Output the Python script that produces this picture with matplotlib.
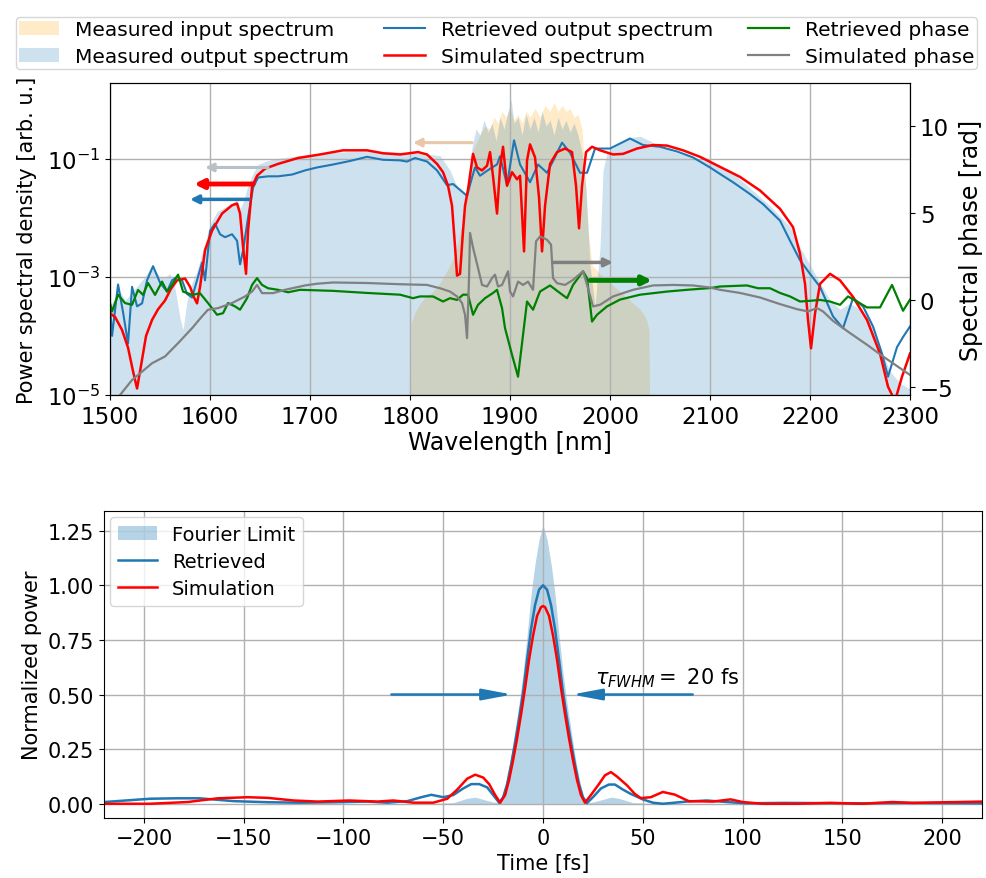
import numpy as np
import matplotlib
matplotlib.use("Agg")
import matplotlib.pyplot as plt
from matplotlib.patches import Patch
from matplotlib.lines import Line2D

# ---- spectrum data (wavelength in nm, PSD given as log10 values) ----
inp_wl = [1800, 1801, 1805, 1810, 1815, 1823, 1830, 1837, 1843, 1847, 1852, 1857, 1860, 1863,
          1867, 1870, 1875, 1880, 1884, 1888, 1892, 1896, 1900, 1904, 1908, 1912, 1916, 1920,
          1925, 1930, 1935, 1940, 1944, 1948, 1952, 1956, 1960, 1964, 1968, 1972, 1975, 1978,
          1982, 1990, 2000, 2010, 2020, 2030, 2036, 2039, 2040]
inp_log = [-6, -3.8, -3.6, -3.45, -3.35, -3.25, -3.1, -2.9, -2.7, -2.5, -2.1, -1.6, -1.2, -0.85,
           -0.7, -0.6, -0.45, -0.5, -0.3, -0.4, -0.2, -0.3, -0.15, -0.35, -0.25, -0.4, -0.2, -0.3,
           -0.15, -0.3, -0.1, -0.2, -0.05, -0.2, -0.1, -0.2, -0.15, -0.3, -0.25, -0.5, -1.3, -2.2,
           -2.8, -2.95, -3.1, -3.25, -3.4, -3.55, -3.7, -3.9, -6]

out_wl = [1500, 1505, 1510, 1515, 1520, 1525, 1530, 1535, 1540, 1545, 1550, 1555, 1560, 1565,
          1570, 1573, 1577, 1582, 1587, 1592, 1597, 1602, 1607, 1612, 1617, 1622, 1627, 1630,
          1633, 1638, 1643, 1648, 1655, 1665, 1680, 1700, 1720, 1740, 1760, 1780, 1800, 1815,
          1830, 1840, 1845, 1850, 1855, 1858, 1862, 1866, 1870, 1874, 1878, 1882, 1886, 1890,
          1894, 1898, 1901, 1904, 1908, 1912, 1916, 1920, 1924, 1928, 1932, 1936, 1940, 1944,
          1948, 1952, 1956, 1960, 1964, 1968, 1972, 1976, 1980, 1985, 1990, 1993, 1997, 2000,
          2010, 2020, 2030, 2040, 2050, 2070, 2100, 2120, 2140, 2160, 2180, 2190, 2200, 2210,
          2220, 2230, 2240, 2250, 2260, 2270, 2280, 2290, 2300]
out_log = [-3.5, -3.35, -3.25, -3.4, -3.3, -3.2, -3.1, -3.0, -2.85, -2.9, -3.0, -3.0, -2.95, -3.2,
           -3.7, -3.9, -3.4, -3.1, -2.9, -2.6, -2.3, -2.05, -1.9, -1.85, -1.8, -1.75, -1.7, -1.85,
           -1.75, -1.45, -1.25, -1.1, -1.05, -1.0, -0.97, -0.93, -0.9, -0.88, -0.87, -0.88, -0.9, -0.92,
           -0.95, -1.2, -1.4, -1.55, -1.6, -1.5, -0.8, -0.5, -0.6, -0.35, -0.55, -0.4, -0.7, -0.3,
           -0.5, -0.2, 0.0, -0.4, -0.3, -0.6, -0.25, -0.5, -0.3, -0.55, -0.2, -0.45, -0.35, -0.6,
           -0.3, -0.5, -0.35, -0.55, -0.4, -0.6, -0.9, -1.5, -2.8, -3.5, -2.5, -1.2, -0.9, -0.85,
           -0.75, -0.65, -0.62, -0.7, -0.8, -0.92, -1.05, -1.2, -1.5, -1.8, -2.15, -2.5, -2.8, -3.1,
           -3.4, -3.55, -3.45, -3.55, -3.75, -4.2, -4.6, -4.8, -4.9]

ret_wl = [1500, 1502, 1508, 1513, 1518, 1522, 1527, 1532, 1537, 1543, 1550, 1557, 1562, 1567,
          1572, 1577, 1582, 1587, 1592, 1595, 1600, 1605, 1610, 1615, 1622, 1627, 1630, 1633,
          1638, 1643, 1648, 1658, 1668, 1682, 1695, 1707, 1723, 1740, 1757, 1773, 1790, 1797,
          1805, 1817, 1827, 1837, 1843, 1850, 1857, 1862, 1865, 1870, 1875, 1882, 1887, 1890,
          1897, 1904, 1910, 1920, 1928, 1937, 1943, 1952, 1960, 1970, 1977, 1985, 2000, 2020,
          2033, 2050, 2067, 2083, 2100, 2110, 2123, 2140, 2153, 2170, 2180, 2190, 2200, 2210,
          2223, 2233, 2243, 2253, 2263, 2272, 2278, 2287, 2293, 2300]
ret_log = [-3.5, -4.0, -3.13, -3.6, -4.13, -3.17, -3.5, -3.45, -3.06, -2.82, -3.1, -3.25, -3.06, -3.0,
           -3.06, -3.29, -3.35, -3.06, -2.76, -3.06, -2.22, -2.1, -2.28, -2.33, -2.28, -2.39, -2.79, -2.56,
           -2.0, -1.49, -1.32, -1.3, -1.3, -1.27, -1.2, -1.15, -1.1, -1.04, -0.97, -1.02, -1.03, -1.05,
           -0.99, -1.05, -1.2, -1.45, -1.43, -1.53, -1.63, -1.32, -1.15, -1.29, -1.23, -1.15, -1.1, -0.96,
           -1.45, -0.69, -1.1, -1.4, -1.1, -1.24, -1.04, -0.73, -0.9, -1.24, -1.24, -0.83, -0.83, -0.66,
           -0.77, -0.8, -0.88, -0.98, -1.15, -1.26, -1.4, -1.6, -1.77, -2.05, -2.39, -2.72, -2.95, -3.17,
           -3.67, -3.87, -3.36, -3.5, -3.84, -4.3, -4.69, -4.19, -4.02, -3.84]

sim_wl = [1500, 1505, 1512, 1518, 1523, 1527, 1531, 1536, 1542, 1548, 1555, 1561, 1567, 1575,
          1580, 1584, 1587, 1590, 1595, 1602, 1612, 1622, 1627, 1630, 1633, 1636, 1638, 1642,
          1647, 1655, 1668, 1688, 1710, 1733, 1757, 1773, 1790, 1808, 1817, 1827, 1833, 1838,
          1842, 1845, 1847, 1850, 1853, 1855, 1858, 1863, 1867, 1872, 1877, 1880, 1883, 1887,
          1890, 1893, 1897, 1902, 1907, 1910, 1914, 1917, 1920, 1925, 1929, 1932, 1935, 1940,
          1947, 1955, 1962, 1966, 1969, 1972, 1976, 1982, 1990, 2003, 2013, 2027, 2043, 2057,
          2073, 2090, 2110, 2130, 2150, 2170, 2183, 2190, 2195, 2198, 2201, 2205, 2210, 2220,
          2230, 2243, 2257, 2270, 2278, 2285, 2292, 2300]
sim_log = [-3.62, -3.68, -3.9, -4.2, -4.6, -4.89, -4.5, -4.0, -3.73, -3.55, -3.4, -3.2, -3.06, -3.03,
           -3.17, -3.35, -3.45, -3.17, -2.55, -2.22, -1.93, -1.79, -1.76, -1.93, -2.49, -2.95, -2.22, -1.48,
           -1.29, -1.17, -1.09, -0.99, -0.93, -0.86, -0.86, -0.91, -0.93, -0.89, -0.93, -1.09, -1.23, -1.46,
           -1.8, -2.49, -2.98, -2.95, -2.22, -1.8, -1.52, -0.92, -1.15, -1.2, -1.12, -0.89, -1.3, -1.93,
           -1.15, -0.8, -1.46, -1.23, -1.35, -1.29, -2.57, -1.03, -0.76, -0.98, -1.66, -2.57, -1.8, -1.09,
           -0.89, -0.83, -0.89, -1.46, -2.18, -1.46, -0.89, -0.8, -0.86, -0.93, -0.92, -0.83, -0.77, -0.78,
           -0.86, -0.97, -1.14, -1.31, -1.54, -1.85, -2.16, -2.61, -3.12, -3.73, -4.21, -3.62, -3.12, -2.95,
           -3.06, -3.34, -3.73, -4.3, -4.86, -5.1, -4.69, -4.3]

# ---- spectral phase data (rad) ----
rph_wl = [1500, 1502, 1508, 1515, 1522, 1528, 1533, 1538, 1545, 1552, 1557, 1562, 1568, 1573,
          1582, 1590, 1598, 1607, 1613, 1618, 1625, 1630, 1637, 1642, 1647, 1652, 1658, 1668,
          1678, 1690, 1723, 1757, 1790, 1803, 1810, 1823, 1833, 1840, 1847, 1853, 1858, 1863,
          1868, 1875, 1883, 1887, 1892, 1895, 1902, 1908, 1913, 1917, 1923, 1930, 1940, 1948,
          1957, 1963, 1973, 1977, 1982, 1987, 1997, 2010, 2030, 2057, 2077, 2100, 2110, 2137,
          2148, 2160, 2170, 2180, 2190, 2200, 2210, 2220, 2230, 2238, 2247, 2257, 2270, 2282,
          2293, 2300]
rph_val = [-0.18, -0.66, 0.3, -0.18, -0.28, 0.57, 0.29, 0.97, 0.29, 1.05, 0.48, 0.86, 1.45, 0.48,
           0.29, 0.38, -0.18, -0.85, -0.76, -0.18, -0.37, -0.56, 0.1, 0.86, 1.25, 0.86, 0.67, 0.58,
           0.44, 0.58, 0.52, 0.4, 0.3, 0.1, 0.2, 0.2, -0.09, 0.1, 0.0, 0.3, 0.3, -0.85, -0.28,
           0.1, 0.4, 0.58, -0.47, -1.62, -3.15, -4.4, -2.0, -0.09, -0.56, 0.48, 0.83, 0.48,
           0.1, 0.86, 1.64, 1.25, -1.24, -0.85, -0.37, 0.02, 0.3, 0.48, 0.58, 0.68, 0.77, 0.83,
           0.67, 0.67, 0.4, 0.2, -0.09, -0.05, 0.0, -0.09, -0.28, 0.2, -0.09, -0.43, -0.43, 0.86,
           -0.62, 0.02]

sph_wl = [1510, 1522, 1532, 1542, 1555, 1568, 1582, 1592, 1598, 1608, 1622, 1635, 1642, 1647,
          1652, 1663, 1675, 1695, 1707, 1723, 1757, 1790, 1817, 1830, 1840, 1847, 1852, 1855,
          1857, 1859, 1860, 1863, 1868, 1872, 1877, 1882, 1885, 1888, 1892, 1895, 1898, 1900,
          1903, 1908, 1913, 1918, 1923, 1926, 1930, 1937, 1941, 1943, 1947, 1955, 1963, 1973,
          1978, 1983, 1990, 2003, 2023, 2043, 2063, 2083, 2100, 2110, 2130, 2150, 2170, 2187,
          2198, 2207, 2213, 2223, 2240, 2257, 2273, 2290, 2300]
sph_val = [-5.45, -4.59, -4.11, -3.63, -3.24, -2.48, -1.62, -0.94, -0.56, -0.47, -0.18, 0.2, 0.48, 0.86,
           0.39, 0.39, 0.58, 0.83, 0.93, 1.0, 0.97, 0.9, 0.86, 0.67, 0.48, 0.2, -0.18, -0.85,
           -2.19, 1.25, 3.84, 3.0, 1.83, 0.86, 0.77, 1.25, 1.45, 0.77, 0.86, 1.25, 1.64, 0.48,
           0.2, 1.05, 0.86, 1.05, 0.58, 3.36, 3.64, 3.45, 3.17, 1.25, 0.96, 0.86, 1.15, 1.64,
           0.67, -0.37, -0.28, 0.2, 0.58, 0.83, 0.86, 0.83, 0.71, 0.58, 0.4, 0.14, -0.24, -0.53,
           -0.66, -0.47, -0.66, -1.2, -1.9, -2.57, -3.24, -3.91, -4.3]

# ---- temporal data (fs, normalized power) ----
fl_t = [-220, -60, -45, -38, -34, -30, -25, -22, -20, -18, -16, -14, -12, -10, -8, -6, -4, -2, 0,
        2, 4, 6, 8, 10, 12, 14, 16, 18, 20, 22, 25, 30, 34, 38, 45, 60, 220]
fl_p = [0.0, 0.0, 0.005, 0.025, 0.03, 0.02, 0.008, 0.005, 0.04, 0.12, 0.22, 0.34, 0.46, 0.6, 0.77,
        0.96, 1.1, 1.21, 1.275, 1.21, 1.1, 0.96, 0.77, 0.6, 0.46, 0.34, 0.22, 0.12, 0.04, 0.005,
        0.008, 0.02, 0.03, 0.025, 0.005, 0.0, 0.0]

ret_t = [-220, -209, -197, -184, -172, -163, -155, -138, -122, -105, -88, -78, -68, -61, -56, -50,
         -45, -40, -36, -32, -28, -25, -22, -20, -18, -16, -14, -12, -10, -8, -6, -4, -2, 0,
         2, 4, 6, 8, 10, 12, 14, 16, 18, 20, 22, 25, 29, 33, 36, 40, 44, 50, 55, 60, 66, 72,
         82, 92, 102, 120, 140, 160, 180, 200, 220]
ret_p = [0.008, 0.015, 0.023, 0.025, 0.025, 0.018, 0.012, 0.007, 0.005, 0.007, 0.01, 0.005, 0.012,
         0.03, 0.041, 0.03, 0.04, 0.07, 0.09, 0.09, 0.075, 0.04, 0.005, 0.03, 0.09, 0.18, 0.28, 0.39,
         0.51, 0.66, 0.80, 0.91, 0.98, 1.0, 0.98, 0.91, 0.80, 0.66, 0.51, 0.39, 0.28, 0.18, 0.09,
         0.03, 0.003, 0.03, 0.07, 0.088, 0.088, 0.065, 0.045, 0.02, 0.005, 0.0, 0.005, 0.01, 0.015,
         0.008, 0.002, 0.004, 0.003, 0.002, 0.004, 0.003, 0.002]

sim_t = [-220, -197, -178, -163, -148, -138, -125, -113, -97, -83, -75, -65, -55, -48, -43, -38,
         -34, -30, -27, -24, -21.5, -19, -17, -15, -13, -11, -9, -7, -5, -3, -1, 0, 1, 3, 5, 7,
         9, 11, 13, 15, 17, 19, 21, 24, 28, 31, 34, 37, 42, 46, 49, 54, 60, 66, 73, 85, 94, 100,
         110, 127, 144, 160, 175, 185, 202, 220]
sim_p = [0.0, 0.0, 0.008, 0.025, 0.03, 0.027, 0.015, 0.01, 0.015, 0.01, 0.015, 0.005, 0.005, 0.023,
         0.065, 0.115, 0.133, 0.12, 0.09, 0.04, 0.005, 0.04, 0.11, 0.2, 0.3, 0.41, 0.53, 0.66, 0.77,
         0.86, 0.9, 0.905, 0.9, 0.86, 0.77, 0.66, 0.53, 0.41, 0.3, 0.2, 0.11, 0.04, 0.005, 0.04,
         0.09, 0.13, 0.145, 0.125, 0.085, 0.045, 0.026, 0.03, 0.054, 0.042, 0.012, 0.01, 0.02, 0.008,
         0.0, 0.0, 0.004, 0.0, 0.008, 0.004, 0.007, 0.01]

fig = plt.figure(figsize=(9.87, 8.79), dpi=100)

# ---------------- top panel: spectrum + phase ----------------
ax = fig.add_axes([0.1115, 0.5495, 0.8105, 0.355])
ax.fill_between(inp_wl, 1e-7, 10 ** np.array(inp_log), color="orange", alpha=0.22, lw=0)
ax.fill_between(out_wl, 1e-7, 10 ** np.array(out_log), color="C0", alpha=0.22, lw=0)
ax.plot(ret_wl, 10 ** np.array(ret_log), color="C0", lw=1.5)
ax.plot(sim_wl, 10 ** np.array(sim_log), color="red", lw=1.8)
ax.set_yscale("log")
ax.set_xlim(1500, 2300)
ax.set_ylim(1e-5, 10 ** 0.28)
ax.set_yticks([1e-5, 1e-3, 1e-1])
ax.yaxis.set_minor_locator(matplotlib.ticker.NullLocator())
ax.set_xticks(range(1500, 2301, 100))
ax.grid(True, color="#b0b0b0", lw=1)
ax.tick_params(labelsize=16.5)
ax.set_xlabel("Wavelength [nm]", fontsize=17, labelpad=2)
ax.set_ylabel("Power spectral density [arb. u.]", fontsize=15, labelpad=7)

ax2 = ax.twinx()
ax2.plot(rph_wl, rph_val, color="green", lw=1.6)
ax2.plot(sph_wl, sph_val, color="gray", lw=1.6)
ax2.set_ylim(-5.45, 12.44)
ax2.set_yticks([-5, 0, 5, 10])
ax2.tick_params(labelsize=16.5)
ax2.set_ylabel("Spectral phase [rad]", fontsize=17)

# arrows pointing to the axis each curve belongs to
def arr(axis, x0, x1, y, color, lw, ms):
    axis.annotate("", xy=(x1, y), xytext=(x0, y),
                  arrowprops=dict(arrowstyle="-|>", color=color, lw=lw, mutation_scale=ms,
                                  shrinkA=0, shrinkB=0))

arr(ax, 1658, 1595, 10 ** -1.15, "#b8c0c8", 2.2, 12)
arr(ax, 1643, 1584, 10 ** -1.43, "red", 3.5, 13)
arr(ax, 1639, 1580, 10 ** -1.69, "C0", 2.5, 12)
arr(ax, 1862, 1803, 10 ** -0.73, "#e8c8a8", 2.2, 12)
arr(ax2, 1943, 2003, 2.15, "gray", 2.5, 12)
arr(ax2, 1980, 2042, 1.12, "green", 3.5, 13)

handles = [Patch(color="orange", alpha=0.22, lw=0), Patch(color="C0", alpha=0.22, lw=0),
           Line2D([], [], color="C0", lw=1.5), Line2D([], [], color="red", lw=1.8),
           Line2D([], [], color="green", lw=1.6), Line2D([], [], color="gray", lw=1.6)]
labels = ["Measured input spectrum", "Measured output spectrum",
          "Retrieved output spectrum", "Simulated spectrum",
          "Retrieved phase", "Simulated phase"]
fig.legend(handles, labels, loc="upper center", bbox_to_anchor=(0.503, 0.991), ncol=3,
           fontsize=14.5, labelspacing=0.42, columnspacing=1.75, borderpad=0.15)

# ---------------- bottom panel: temporal pulse ----------------
bx = fig.add_axes([0.1054, 0.0683, 0.8896, 0.3492])
bx.fill_between(fl_t, 0, fl_p, color="C0", alpha=0.32, lw=0, label="Fourier Limit")
bx.plot(ret_t, ret_p, color="C0", lw=1.8, label="Retrieved")
bx.plot(sim_t, sim_p, color="red", lw=1.8, label="Simulation")
bx.set_xlim(-220, 220)
bx.set_ylim(-0.065, 1.34)
bx.set_xticks(range(-200, 201, 50))
bx.set_yticks([0, 0.25, 0.5, 0.75, 1.0, 1.25])
bx.grid(True, color="#b0b0b0", lw=1)
bx.tick_params(labelsize=15)
bx.set_xlabel("Time [fs]", fontsize=15, labelpad=4)
bx.set_ylabel("Normalized power", fontsize=15)
bx.legend(loc="upper left", fontsize=14, labelspacing=0.42, borderaxespad=0.3)

for x0, x1 in [(-76, -15.5), (75, 14.5)]:
    bx.annotate("", xy=(x1, 0.5), xytext=(x0, 0.5),
                arrowprops=dict(arrowstyle="-|>,head_length=0.9,head_width=0.17", color="C0",
                                lw=1.8, mutation_scale=20, shrinkA=0, shrinkB=0))
bx.text(26, 0.58, r"$\tau_{FWHM} =$ 20 fs", fontsize=15, va="center")

fig.savefig("out.png", dpi=100)
